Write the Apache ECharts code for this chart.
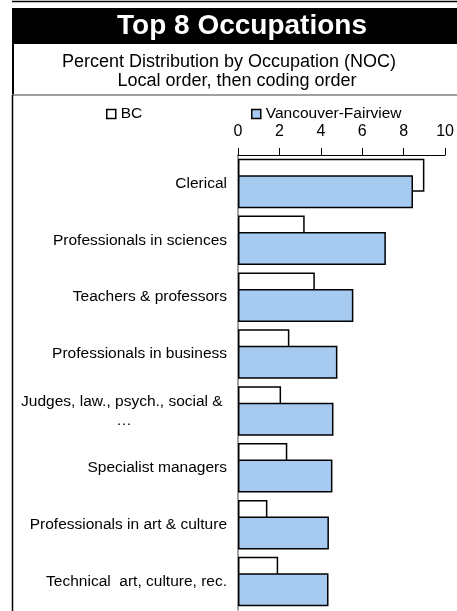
<!DOCTYPE html>
<html>
<head>
<meta charset="utf-8">
<script src="https://cdn.jsdelivr.net/npm/echarts@6/dist/echarts.min.js"></script>
<style>
html,body{margin:0;padding:0;background:#fff;}
#chart{width:457px;height:611px;}
</style>
</head>
<body>
<div id="chart"></div>
<script>
var titleText = 'Top 8 Occupations';
var subtitle1 = 'Percent Distribution by Occupation (NOC)';
var subtitle2 = 'Local order, then coding order';
var categories = ['Clerical', 'Professionals in sciences', 'Teachers & professors', 'Professionals in business', 'Judges, law., psych., social & \u2026', 'Specialist managers', 'Professionals in art & culture', 'Technical  art, culture, rec.'];
var bcValues = [9.0, 3.22, 3.71, 2.48, 2.08, 2.38, 1.42, 1.94];
var vanValues = [8.45, 7.14, 5.57, 4.80, 4.61, 4.56, 4.39, 4.37];
var seriesNames = ['BC', 'Vancouver-Fairview'];
var xTicks = [0, 2, 4, 6, 8, 10];

var FONT = 'Liberation Sans, Arial, sans-serif';
var chart = echarts.init(document.getElementById('chart'), null, {renderer: 'canvas'});

var option = {
  animation: false,
  backgroundColor: '#fff',
  textStyle: {fontFamily: FONT},
  graphic: [
    {type: 'line', shape: {x1: 12, y1: 1.5, x2: 457, y2: 1.5}, style: {stroke: '#000', lineWidth: 1.5}},
    {type: 'rect', shape: {x: 12, y: 8, width: 445, height: 36}, style: {fill: '#000'}},
    {type: 'text', x: 242, y: 26, style: {text: titleText, fill: '#fff', font: 'bold 28px ' + FONT, textAlign: 'center', textVerticalAlign: 'middle'}},
    {type: 'text', x: 229, y: 62, style: {text: subtitle1, fill: '#000', font: '18px ' + FONT, textAlign: 'center', textVerticalAlign: 'middle'}},
    {type: 'text', x: 237, y: 81, style: {text: subtitle2, fill: '#000', font: '18px ' + FONT, textAlign: 'center', textVerticalAlign: 'middle'}},
    {type: 'line', shape: {x1: 13, y1: 44, x2: 13, y2: 95}, style: {stroke: '#000', lineWidth: 2}},
    {type: 'line', shape: {x1: 12, y1: 95, x2: 457, y2: 95}, style: {stroke: '#808080', lineWidth: 1.5}},
    {type: 'line', shape: {x1: 12.5, y1: 95, x2: 12.5, y2: 611}, style: {stroke: '#000', lineWidth: 1.5}}
  ],
  legend: [
    {data: [{name: seriesNames[0], icon: 'rect'}], left: 106, top: 106, padding: 0, itemWidth: 9, itemHeight: 9,
     itemStyle: {borderColor: '#000', borderWidth: 1.5},
     textStyle: {fontSize: 15.5, color: '#000', fontFamily: FONT}},
    {data: [{name: seriesNames[1], icon: 'rect'}], left: 251, top: 106, padding: 0, itemWidth: 9, itemHeight: 9,
     itemStyle: {borderColor: '#000', borderWidth: 1.5},
     textStyle: {fontSize: 15.5, color: '#000', fontFamily: FONT}}
  ],
  grid: {left: 238, top: 155, width: 210.5, height: 455, containLabel: false},
  xAxis: {
    type: 'value', position: 'top', min: 0, max: 10, interval: 2,
    axisLine: {show: true, lineStyle: {color: '#000', width: 1}},
    axisTick: {show: true, inside: false, length: 7, lineStyle: {color: '#000'}},
    axisLabel: {fontSize: 16, color: '#000', margin: 15, fontFamily: FONT,
      customValues: xTicks},
    splitLine: {show: false}
  },
  yAxis: {
    type: 'category', inverse: true, data: categories,
    axisLine: {show: true, lineStyle: {color: '#808080', width: 1.5}},
    axisTick: {show: false},
    axisLabel: {
      fontSize: 15.5, color: '#000', margin: 11, fontFamily: FONT, lineHeight: 19,
      formatter: function (v) {
        var i = v.indexOf(' \u2026');
        if (i >= 0) {
          return v.slice(0, i + 1) + '\n{c|\u2026}';
        }
        return v;
      },
      rich: {c: {width: 204, align: 'center', fontSize: 15.5, color: '#000', fontFamily: FONT, lineHeight: 19}}
    }
  },
  series: [
    {name: seriesNames[0], type: 'bar', data: bcValues, barWidth: 33, barGap: '-50%',
     itemStyle: {color: '#fff', borderColor: '#000', borderWidth: 1.5}},
    {name: seriesNames[1], type: 'bar', data: vanValues, barWidth: 33, barGap: '-50%',
     itemStyle: {color: '#A6CAF0', borderColor: '#000', borderWidth: 1.5}}
  ]
};
chart.setOption(option);
</script>
</body>
</html>
